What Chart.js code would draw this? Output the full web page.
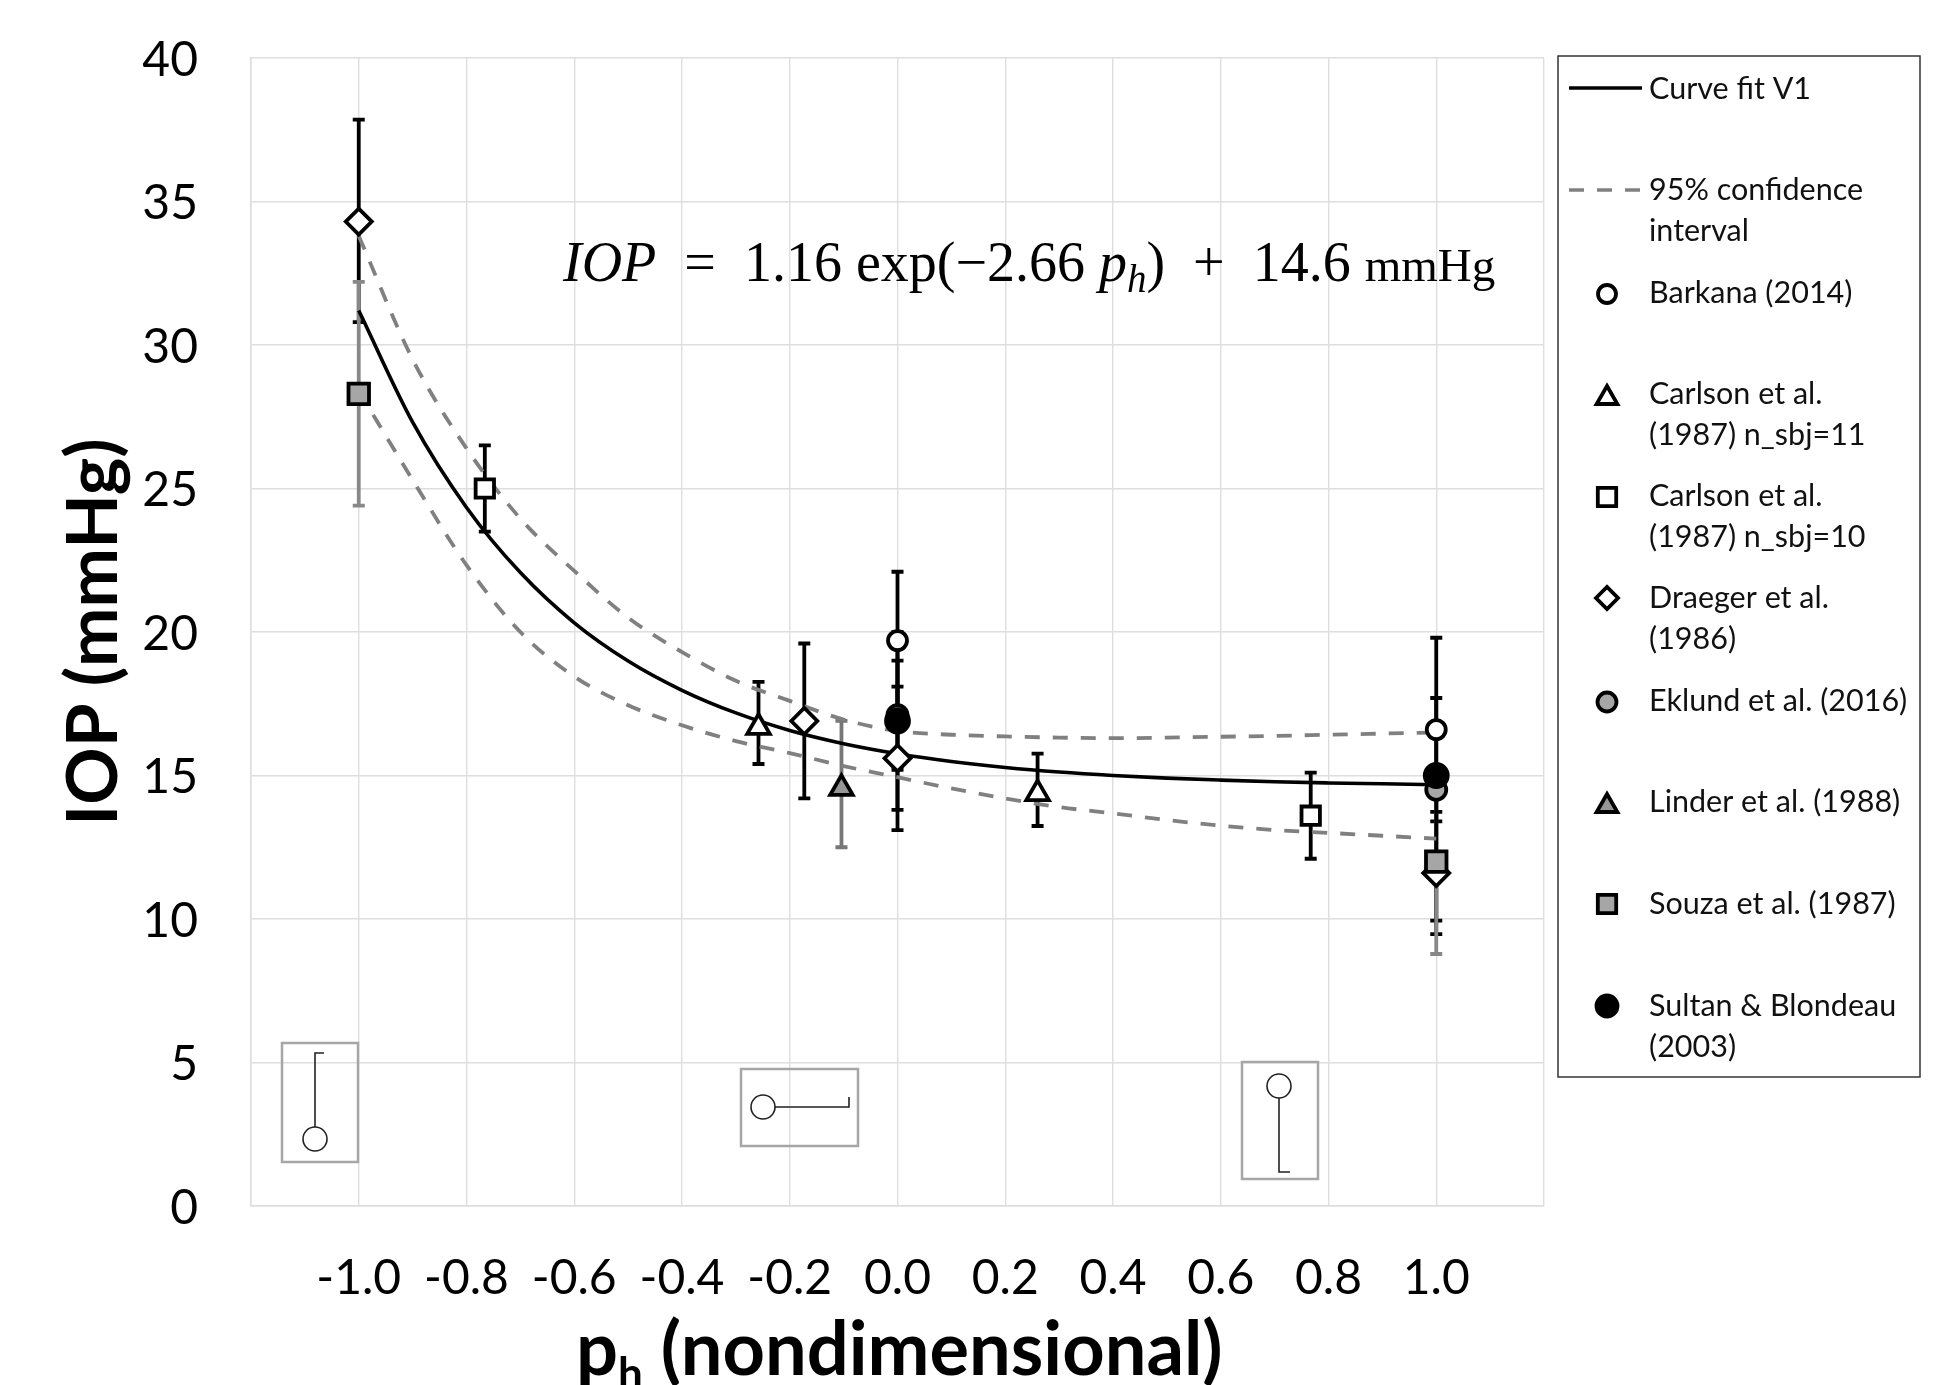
<!DOCTYPE html>
<html>
<head>
<meta charset="utf-8">
<title>IOP vs ph</title>
<script src="https://cdn.jsdelivr.net/npm/chart.js@4"></script>
<style>
html, body { margin: 0; background: #fff; overflow: hidden; }
canvas { display: block; }
</style>
</head>
<body>
<canvas id="iopChart" width="1935" height="1385"></canvas>
<script>
var xGridValues = [-1.2, -1.0, -0.8, -0.6, -0.4, -0.2, 0, 0.2, 0.4, 0.6, 0.8, 1.0, 1.2];
var xTickLabels = ['', '-1.0', '-0.8', '-0.6', '-0.4', '-0.2', '0.0', '0.2', '0.4', '0.6', '0.8', '1.0', ''];

// curves
var curveX = [-1, -0.9, -0.8, -0.7, -0.6, -0.5, -0.4, -0.3, -0.2, -0.1, 0, 0.1, 0.2, 0.3, 0.4, 0.5, 0.6, 0.7, 0.8, 0.9, 1];
var fitY = [31.2, 27.31, 24.34, 22.07, 20.32, 18.99, 17.97, 17.18, 16.57, 16.11, 15.76, 15.49, 15.28, 15.12, 15.0, 14.91, 14.84, 14.78, 14.74, 14.71, 14.68];
var upperY = [33.8, 29.5, 26.4, 23.95, 22.13, 20.5, 19.3, 18.3, 17.6, 16.95, 16.55, 16.42, 16.36, 16.32, 16.3, 16.32, 16.35, 16.38, 16.42, 16.46, 16.5];
var lowerY = [28.4, 25.3, 22.33, 20.0, 18.45, 17.45, 16.75, 16.2, 15.78, 15.33, 14.94, 14.55, 14.2, 13.9, 13.68, 13.45, 13.25, 13.1, 13.0, 12.9, 12.8];

// studies: x, y, lower and upper error bar ends
var barkanaX = [0, 1];
var barkanaY = [19.7, 16.6];
var barkanaLow = [17.3, 13.4];
var barkanaHigh = [22.1, 19.8];

var carlson11X = [-0.258, 0.26];
var carlson11Y = [16.68, 14.37];
var carlson11Low = [15.4, 13.24];
var carlson11High = [18.26, 15.76];

var carlson10X = [-0.766, 0.767];
var carlson10Y = [25.0, 13.6];
var carlson10Low = [23.5, 12.1];
var carlson10High = [26.5, 15.1];

var draegerX = [-1, -0.173, 0, 1];
var draegerY = [34.3, 16.9, 15.6, 11.6];
var draegerLow = [30.8, 14.2, 13.1, 9.47];
var draegerHigh = [37.85, 19.6, 18.1, 13.73];

var eklundX = [0, 1];
var eklundY = [17.1, 14.5];
var eklundLow = [15.2, 9.94];
var eklundHigh = [19.0, 14.5];

var linderX = [-0.104];
var linderY = [14.55];
var linderLow = [12.5];
var linderHigh = [16.9];

var souzaX = [-1, 1];
var souzaY = [28.3, 12.0];
var souzaLow = [24.4, 8.78];
var souzaHigh = [32.2, 15.2];

var sultanX = [0, 1];
var sultanY = [16.9, 15.0];
var sultanLow = [13.8, 12.3];
var sultanHigh = [20.0, 17.7];

var FONT = 'Lato, "Open Sans", sans-serif';
var GRID = '#dedede';

function pts(xs, ys) {
    return xs.map(function(x, i) { return { x: x, y: ys[i] }; });
}

function curve(label, ys, color, dash, width) {
    return {
        label: label, data: pts(curveX, ys), showLine: true, cubicInterpolationMode: 'monotone',
        borderColor: color, borderDash: dash, borderWidth: width,
        pointRadius: 0, fill: false
    };
}

function study(label, xs, ys, low, high, style, radius, fill, errColor) {
    return {
        label: label, data: pts(xs, ys), showLine: false,
        pointStyle: style, pointRadius: radius, pointBorderWidth: 3.8,
        pointBackgroundColor: fill, pointBorderColor: '#000',
        errLow: low, errHigh: high, errColor: errColor
    };
}

var datasets = [
    curve('95% upper', upperY, '#808080', [15, 13], 3.8),
    curve('95% lower', lowerY, '#808080', [15, 13], 3.8),
    curve('Curve fit V1', fitY, '#000', [], 3.6),
    study('Barkana (2014)', barkanaX, barkanaY, barkanaLow, barkanaHigh, 'circle', 9.5, '#fff', '#000'),
    study('Carlson n_sbj=11', carlson11X, carlson11Y, carlson11Low, carlson11High, 'triangle', 13, '#fff', '#000'),
    study('Carlson n_sbj=10', carlson10X, carlson10Y, carlson10Low, carlson10High, 'rect', 13, '#fff', '#000'),
    study('Draeger', draegerX, draegerY, draegerLow, draegerHigh, 'rectRot', 13, '#fff', '#000'),
    study('Eklund', eklundX, eklundY, eklundLow, eklundHigh, 'circle', 10, '#a6a6a6', '#000'),
    study('Linder', linderX, linderY, linderLow, linderHigh, 'triangle', 13, '#969696', '#777'),
    study('Souza', souzaX, souzaY, souzaLow, souzaHigh, 'rect', 14.5, '#a6a6a6', '#888'),
    study('Sultan', sultanX, sultanY, sultanLow, sultanHigh, 'circle', 11.5, '#000', '#000')
];
// first in the list gets painted first
datasets.forEach(function(d, i) { d.order = datasets.length - i; });

var errorBars = {
    id: 'errorBars',
    beforeDatasetsDraw: function(chart) {
        var ctx = chart.ctx, sx = chart.scales.x, sy = chart.scales.y;
        ctx.save();
        chart.data.datasets.forEach(function(d) {
            if (!d.errLow) return;
            ctx.strokeStyle = d.errColor;
            ctx.lineWidth = 3.8;
            d.data.forEach(function(p, i) {
                var x = sx.getPixelForValue(p.x);
                var a = sy.getPixelForValue(d.errLow[i]);
                var b = sy.getPixelForValue(d.errHigh[i]);
                ctx.beginPath();
                ctx.moveTo(x, a);
                ctx.lineTo(x, b);
                ctx.moveTo(x - 6, a);
                ctx.lineTo(x + 6, a);
                if (d.errHigh[i] !== p.y) {
                    ctx.moveTo(x - 6, b);
                    ctx.lineTo(x + 6, b);
                }
                ctx.stroke();
            });
        });
        ctx.restore();
    }
};

// text runs drawn one after another: [text, font, drop]
function runs(ctx, x, y, parts) {
    parts.forEach(function(p) {
        ctx.font = p[1];
        ctx.fillText(p[0], x, y + (p[2] || 0));
        x += ctx.measureText(p[0]).width;
    });
}

var legendRows = [
    { lines: ['Curve fit V1'], base: 99, line: [], ly: 88 },
    { lines: ['95% confidence', 'interval'], base: 200, line: [15, 13], ly: 190 },
    { lines: ['Barkana (2014)'], base: 303, style: 'circle', r: 9, fill: '#fff', my: 294 },
    { lines: ['Carlson et al.', '(1987) n_sbj=11'], base: 404, style: 'triangle', r: 12, fill: '#fff', my: 398 },
    { lines: ['Carlson et al.', '(1987) n_sbj=10'], base: 506, style: 'rect', r: 13, fill: '#fff', my: 497 },
    { lines: ['Draeger et al.', '(1986)'], base: 608, style: 'rectRot', r: 11, fill: '#fff', my: 598 },
    { lines: ['Eklund et al. (2016)'], base: 711, style: 'circle', r: 9.5, fill: '#a6a6a6', my: 702 },
    { lines: ['Linder et al. (1988)'], base: 812, style: 'triangle', r: 12, fill: '#969696', my: 806 },
    { lines: ['Souza et al. (1987)'], base: 914, style: 'rect', r: 13, fill: '#a6a6a6', my: 904 },
    { lines: ['Sultan & Blondeau', '(2003)'], base: 1016, style: 'circle', r: 10.5, fill: '#000', my: 1006 }
];

var annotations = {
    id: 'annotations',
    afterDraw: function(chart) {
        var ctx = chart.ctx;
        ctx.save();
        ctx.textAlign = 'left';
        ctx.textBaseline = 'alphabetic';
        ctx.fillStyle = '#000';

        // x axis title, cut by the page edge like the original
        runs(ctx, 576, 1375, [
            ['p', 'bold 74px ' + FONT],
            ['h', 'bold 44px ' + FONT, 14],
            [' (nondimensional)', 'bold 74px ' + FONT]
        ]);

        // equation
        var ser = '"Liberation Serif", serif';
        runs(ctx, 563, 281, [
            ['IOP', 'italic 56px ' + ser],
            ['  =  1.16 exp(\u22122.66 ', '56px ' + ser],
            ['p', 'italic 56px ' + ser],
            ['h', 'italic 39px ' + ser, 11],
            [')  +  14.6 ', '56px ' + ser],
            ['mmHg', '47px ' + ser]
        ]);

        // legend box
        ctx.strokeStyle = '#333';
        ctx.lineWidth = 1.5;
        ctx.fillStyle = '#fff';
        ctx.fillRect(1558, 56, 362, 1021);
        ctx.strokeRect(1558, 56, 362, 1021);
        legendRows.forEach(function(row) {
            ctx.fillStyle = '#111';
            ctx.font = '30.5px ' + FONT;
            row.lines.forEach(function(t, i) {
                ctx.fillText(t, 1649, row.base + i * 41);
            });
            if (row.line) {
                ctx.save();
                ctx.strokeStyle = row.line.length ? '#808080' : '#000';
                ctx.lineWidth = 3.4;
                ctx.setLineDash(row.line);
                ctx.beginPath();
                ctx.moveTo(1569, row.ly);
                ctx.lineTo(1642, row.ly);
                ctx.stroke();
                ctx.restore();
            } else {
                ctx.save();
                ctx.strokeStyle = '#000';
                ctx.fillStyle = row.fill;
                ctx.lineWidth = 3.8;
                Chart.helpers.drawPoint(ctx, { pointStyle: row.style, radius: row.r, rotation: 0, borderWidth: 3.8 }, 1607, row.my);
                ctx.restore();
            }
        });

        // body position sketches
        function box(x, y, w, h) {
            ctx.strokeStyle = '#a6a6a6';
            ctx.lineWidth = 2.5;
            ctx.strokeRect(x, y, w, h);
            ctx.strokeStyle = '#222';
            ctx.lineWidth = 1.6;
        }
        function head(x, y) {
            ctx.beginPath();
            ctx.arc(x, y, 12, 0, Math.PI * 2);
            ctx.stroke();
        }
        function path(p) {
            ctx.beginPath();
            p.forEach(function(q, i) {
                if (i) ctx.lineTo(q[0], q[1]); else ctx.moveTo(q[0], q[1]);
            });
            ctx.stroke();
        }
        box(282, 1043, 76, 119);
        head(315, 1139);
        path([[315, 1127], [315, 1053], [324, 1053]]);
        box(741, 1069, 117, 77);
        head(763, 1107);
        path([[775, 1107], [849, 1107], [849, 1097]]);
        box(1242, 1062, 76, 117);
        head(1279, 1086);
        path([[1279, 1098], [1279, 1172], [1290, 1172]]);
        ctx.restore();
    }
};

var iopChart = new Chart(document.getElementById('iopChart').getContext('2d'), {
    type: 'scatter',
    data: { datasets: datasets },
    plugins: [errorBars, annotations],
    options: {
        responsive: false,
        animation: false,
        layout: { padding: { left: 0, right: 391, top: 58, bottom: 0 } },
        plugins: { legend: { display: false }, tooltip: { enabled: false } },
        scales: {
            x: {
                type: 'linear',
                min: -1.2,
                max: 1.2,
                afterBuildTicks: function(scale) {
                    scale.ticks = xGridValues.map(function(v) { return { value: v }; });
                },
                afterFit: function(scale) { scale.height = 179; scale.paddingLeft = 0; scale.paddingRight = 0; },
                grid: { color: GRID, lineWidth: 1.4, drawTicks: false },
                border: { color: GRID, width: 1.6 },
                ticks: {
                    autoSkip: false, maxRotation: 0, padding: 44, color: '#000',
                    font: { family: FONT, size: 48 },
                    callback: function(v, i) { return xTickLabels[i]; }
                }
            },
            y: {
                min: 0,
                max: 40,
                ticks: { stepSize: 5, padding: 53, labelOffset: 2.5, color: '#000', font: { family: FONT, size: 48 } },
                afterFit: function(scale) { scale.width = 251; scale.paddingTop = 0; scale.paddingBottom = 0; },
                grid: { color: GRID, lineWidth: 1.4, drawTicks: false },
                border: { color: GRID, width: 1.6 },
                title: {
                    display: true, text: 'IOP (mmHg)', color: '#000',
                    font: { family: FONT, size: 71, weight: 'bold' },
                    padding: { top: 52, bottom: 0 }
                }
            }
        }
    }
});
</script>
</body>
</html>
